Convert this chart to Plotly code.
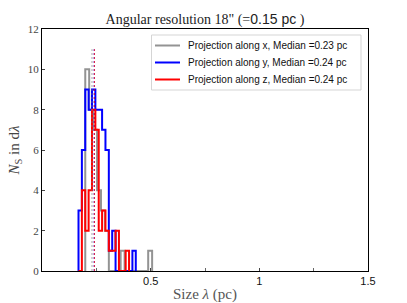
import plotly.graph_objects as go

# ---- data ----
# blue / red share a bin grid, gray has its own
bin_start_yz = 0.168
bin_width_yz = 0.0155
bin_start_x = 0.199
bin_width_x = 0.0181

counts_x = [10, 8, 7, 4, 3, 2, 0, 0, 0, 1, 0, 0, 0, 0, 0, 0, 1]
counts_y = [3, 6, 9, 8, 9, 8, 8, 7, 6, 1, 2, 0, 0, 0, 0, 0, 1]
counts_z = [0, 4, 2, 4, 8, 7, 2, 3, 2, 1, 1, 2, 0, 0, 1]

median_x = 0.23
median_y = 0.24
median_z = 0.241
median_top = 11

names = ["Projection along x, Median =0.23 pc",
         "Projection along y, Median =0.24 pc",
         "Projection along z, Median =0.24 pc"]

xtick_vals = [0.5, 1.0, 1.5]
xtick_text = ["0.5", "1", "1.5"]
xminor_vals = [0.25, 0.75, 1.25]
ytick_vals = [0, 2, 4, 6, 8, 10, 12]


def step_xy(start, width, counts):
    n = len(counts)
    edges = [start + i * width for i in range(n + 1)]
    xs = [edges[0]] + edges[:n] + [edges[n]]
    ys = [0] + list(counts) + [0]
    return xs, ys


W, H = 407, 303
ML, MR, MT, MB = 42, 39, 29, 32
PW, PH = W - ML - MR, H - MT - MB


def px(xp):
    return (xp - ML) / PW


def py(yp):
    return (H - MB - yp) / PH


SERIF = "Liberation Serif, DejaVu Serif, serif"
SANS = "Liberation Sans, Arial, sans-serif"
GRAY = "rgba(128,128,128,0.85)"
colors = [GRAY, "#0000ff", "#ff0000"]

fig = go.Figure()
series = [
    (bin_start_x, bin_width_x, counts_x),
    (bin_start_yz, bin_width_yz, counts_y),
    (bin_start_yz, bin_width_yz, counts_z),
]
for (start, width, counts), color, name in zip(series, colors, names):
    xs, ys = step_xy(start, width, counts)
    fig.add_trace(go.Scatter(x=xs, y=ys, mode="lines", line_shape="hv",
                             line=dict(color=color, width=2), name=name, showlegend=False))

for med, color in zip([median_x, median_y, median_z], colors):
    fig.add_trace(go.Scatter(x=[med, med], y=[0, median_top], mode="lines",
                             line=dict(color=color, width=1, dash="2px,2px"),
                             opacity=0.8, showlegend=False, hoverinfo="skip"))

# manual legend (matplotlib-like spacing)
shapes = [dict(type="rect", xref="paper", yref="paper",
               x0=px(151.5), x1=px(361), y0=py(90), y1=py(35),
               line=dict(color="#d5d5d5", width=1), fillcolor="rgba(255,255,255,0.8)",
               layer="above")]
annotations = []
for i, (color, name) in enumerate(zip(colors, names)):
    yc = 45.5 + 17 * i
    shapes.append(dict(type="line", xref="paper", yref="paper",
                       x0=px(155), x1=px(180), y0=py(yc), y1=py(yc),
                       line=dict(color=color, width=2), layer="above"))
    annotations.append(dict(text=name, xref="paper", yref="paper",
                            x=px(186), y=py(yc), xanchor="left", yanchor="middle",
                            showarrow=False, font=dict(family=SANS, size=10, color="#111")))

fig.update_layout(
    width=W, height=H,
    margin=dict(l=ML, r=MR, t=MT, b=MB, autoexpand=False),
    paper_bgcolor="white", plot_bgcolor="white",
    title=dict(text='Angular resolution 18" (=<span style="font-family:Liberation Sans">0.15 pc</span> )',
               x=0.5, xref="paper", xanchor="center",
               y=(H - 19) / H, yref="container", yanchor="middle",
               font=dict(family=SERIF, size=14, color="#222")),
    shapes=shapes, annotations=annotations,
    showlegend=False,
)
fig.update_xaxes(range=[0, 1.5], tickmode="array", tickvals=xtick_vals, ticktext=xtick_text,
                 ticks="inside", ticklen=3, tickcolor="#444",
                 minor=dict(tickmode="array", tickvals=xminor_vals, ticks="inside",
                            ticklen=3, tickcolor="#666", showgrid=False),
                 showline=True, linecolor="black", automargin=False,
                 linewidth=1, mirror=True, showgrid=False, zeroline=False,
                 tickfont=dict(family=SANS, size=11, color="#111"),
                 title=dict(text="Size <i>λ</i> (pc)", standoff=2,
                            font=dict(family=SERIF, size=15, color="#555")))
fig.update_yaxes(range=[0, 12], tickmode="array", tickvals=ytick_vals,
                 ticks="inside", ticklen=3, tickcolor="#444", showline=True, linecolor="black",
                 linewidth=1, mirror=True, showgrid=False, zeroline=False, automargin=False,
                 tickfont=dict(family=SERIF, size=11, color="#444"),
                 title=dict(text="<i>N</i><sub>S</sub> in d<i>λ</i>", standoff=4,
                            font=dict(family=SERIF, size=15, color="#444")))

fig.write_html("out.html", config={"displayModeBar": False},
               post_script="document.body.style.margin='0';document.body.style.padding='0';")
